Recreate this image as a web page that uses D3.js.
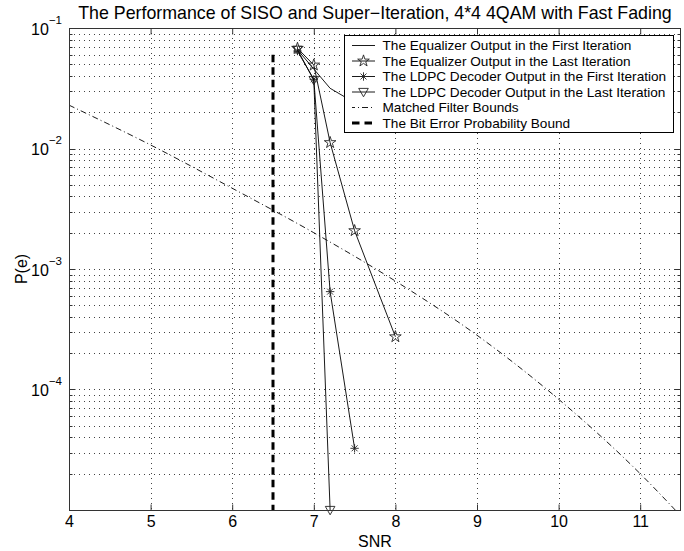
<!DOCTYPE html>
<html><head><meta charset="utf-8">
<script src="https://cdn.jsdelivr.net/npm/d3@7"></script>
<style>
body{margin:0;background:#fff}
svg{display:block}
text{font-family:"Liberation Sans",Arial,Helvetica,sans-serif;fill:#000}
</style>
</head><body>
<svg id="c" width="684" height="551"></svg>
<script>
// ---------------- data ----------------
const titleText = "The Performance of SISO and Super\u2212Iteration, 4*4 4QAM with Fast Fading";
const xLabelText = "SNR";
const yLabelText = "P(e)";
const xTicks = [4, 5, 6, 7, 8, 9, 10, 11];
const yDecades = [1e-1, 1e-2, 1e-3, 1e-4, 1e-5];
const yLabelDecades = [1e-1, 1e-2, 1e-3, 1e-4];
const yLabelExps = ["\u22121", "\u22122", "\u22123", "\u22124"];

const snrEqFirst = [6.8, 7.2, 7.5, 8.0];
const perEqFirst = [0.066, 0.0316, 0.024, 0.020];
const snrEqLast = [6.8, 7.0, 7.2, 7.5, 8.0];
const perEqLast = [0.0678, 0.0493, 0.0112, 0.00208, 0.000274];
const snrLdpcFirst = [6.8, 7.0, 7.2, 7.5];
const perLdpcFirst = [0.0644, 0.0375, 0.000649, 0.0000325];
const snrLdpcLast = [6.8, 7.0, 7.2];
const perLdpcLast = [0.066, 0.037, 0.00001];
const snrMfb = [4, 5, 6, 7, 8, 9, 10, 11, 11.5];
const perMfb = [0.0229, 0.0107, 0.00468, 0.0020, 0.000794, 0.000282, 0.000083, 0.000020, 0.0000089];
const snrBound = [6.5, 6.5];
const perBound = [0.06, 0.00001];

const legendLabels = [
  "The Equalizer Output in the First Iteration",
  "The Equalizer Output in the Last Iteration",
  "The LDPC Decoder Output in the First Iteration",
  "The LDPC Decoder Output in the Last Iteration",
  "Matched Filter Bounds",
  "The Bit Error Probability Bound"
];

// ---------------- layout ----------------
const L = 69, R = 681, T = 28, B = 510;
const svg = d3.select("#c");
const x = d3.scaleLinear().domain([4, 11.5]).range([L, R]);
const y = d3.scaleLog().domain([1e-5, 1e-1]).range([B, T]);

const yMinor = [];
for (let k = -5; k <= -2; k++) for (let m = 2; m <= 9; m++) yMinor.push(m * Math.pow(10, k));

const gridColor = "#444";
const gridDash = "1,4";

// grid
const grid = svg.append("g");
grid.selectAll("line.vx").data(xTicks.filter(d => d > 4)).join("line")
  .attr("x1", d => Math.round(x(d)) + 0.5).attr("x2", d => Math.round(x(d)) + 0.5)
  .attr("y1", T).attr("y2", B)
  .attr("stroke", gridColor).attr("stroke-width", 1).attr("stroke-dasharray", gridDash);
grid.selectAll("line.hy").data(yMinor.concat(yDecades.filter(d => d < 1e-1 && d > 1e-5))).join("line")
  .attr("x1", L).attr("x2", R)
  .attr("y1", d => Math.round(y(d)) + 0.5).attr("y2", d => Math.round(y(d)) + 0.5)
  .attr("stroke", gridColor).attr("stroke-width", 1).attr("stroke-dasharray", gridDash);

// clip
svg.append("clipPath").attr("id", "clip").append("rect")
  .attr("x", L).attr("y", T - 8).attr("width", R - L).attr("height", B - T + 16);
svg.append("clipPath").attr("id", "clipTight").append("rect")
  .attr("x", L).attr("y", T).attr("width", R - L).attr("height", B - T);

const plot = svg.append("g").attr("clip-path", "url(#clip)");
const line = d3.line().x(d => x(d[0])).y(d => y(d[1]));
const zip = (a, b) => a.map((v, i) => [v, b[i]]);

// symbols
const starPath = d3.symbol(d3.symbolStar, 42)();
const triPath = "M-4.8,-3.6L4.8,-3.6L0,4.8Z";
const astPath = (() => { const r = 4.2, q = r * 0.7071;
  return `M${-r},0L${r},0M0,${-r}L0,${r}M${-q},${-q}L${q},${q}M${-q},${q}L${q},${-q}`; })();

const lineColor = "#000";
const lw = 0.9;

// matched filter bounds
const gTight = svg.append("g").attr("clip-path", "url(#clipTight)");
gTight.append("path").datum(zip(snrMfb, perMfb))
  .attr("d", d3.line().x(d => x(d[0])).y(d => y(d[1])).curve(d3.curveMonotoneX))
  .attr("fill", "none")
  .attr("stroke", lineColor).attr("stroke-width", lw).attr("stroke-dasharray", "6,3,1,3");

// bit error probability bound
plot.append("path").datum(zip(snrBound, perBound))
  .attr("d", line).attr("fill", "none").attr("stroke", "#000").attr("stroke-width", 3)
  .attr("stroke-dasharray", "7.5,5");

function series(sx, sy, marker) {
  const data = zip(sx, sy);
  plot.append("path").datum(data).attr("d", line).attr("fill", "none")
    .attr("stroke", lineColor).attr("stroke-width", lw);
  if (marker) {
    plot.selectAll(null).data(data).join("path")
      .attr("transform", d => `translate(${x(d[0])},${y(d[1])})`)
      .attr("d", marker).attr("fill", "none").attr("stroke", "#222").attr("stroke-width", 0.9);
  }
}
series(snrEqFirst, perEqFirst, null);
series(snrEqLast, perEqLast, starPath);
series(snrLdpcFirst, perLdpcFirst, astPath);
series(snrLdpcLast, perLdpcLast, triPath);

// legend
const lg = svg.append("g");
const LX = 344.5, LY = 35.5, LW = 329, LH = 97;
lg.append("rect").attr("x", LX).attr("y", LY).attr("width", LW).attr("height", LH)
  .attr("fill", "#fff").attr("stroke", "#000").attr("stroke-width", 1);
const rowY = i => 45.5 + i * 15.5;
const styles = [
  {dash: null, w: lw, m: null},
  {dash: null, w: lw, m: starPath},
  {dash: null, w: lw, m: astPath},
  {dash: null, w: lw, m: triPath},
  {dash: "6,3,1,3", w: lw, m: null, off: 3},
  {dash: "7.5,5", w: 3, m: null}
];
legendLabels.forEach((lab, i) => {
  const s = styles[i], yy = rowY(i);
  const ln = lg.append("line").attr("x1", 352).attr("x2", 375).attr("y1", yy).attr("y2", yy)
    .attr("stroke", "#000").attr("stroke-width", s.w);
  if (s.dash) ln.attr("stroke-dasharray", s.dash).attr("stroke-dashoffset", s.off || 0);
  if (s.m) lg.append("path").attr("d", s.m).attr("transform", `translate(363.5,${yy})`)
    .attr("fill", "none").attr("stroke", "#222").attr("stroke-width", 0.9);
  lg.append("text").attr("class", "lgt").attr("x", 382.5).attr("y", yy + 4.8)
    .attr("font-size", 14).text(lab);
});
(() => {
  const t = lg.selectAll("text.lgt").filter((d, i) => i === 2).node();
  const w = t.getComputedTextLength();
  lg.selectAll("text.lgt").attr("font-size", 14 * 284 / w);
})();

// axes box
const ax = svg.append("g");
ax.append("rect").attr("x", L + 0.5).attr("y", T + 0.5).attr("width", R - L - 1).attr("height", B - T)
  .attr("fill", "none").attr("stroke", "#333").attr("stroke-width", 1);

// x axis ticks (bottom & top, inward)
const xb = d3.axisBottom(x).tickValues(xTicks).tickSize(-6).tickPadding(5).tickFormat(d3.format("d"));
const gxb = svg.append("g").attr("transform", `translate(0,${B + 0.5})`).call(xb);
gxb.select(".domain").remove();
gxb.selectAll("text").attr("font-size", 16).attr("font-family", "Liberation Sans, Arial, sans-serif");
gxb.selectAll("line").attr("stroke", "#333");
const xt = d3.axisTop(x).tickValues(xTicks).tickSize(-6).tickFormat("");
const gxt = svg.append("g").attr("transform", `translate(0,${T + 0.5})`).call(xt);
gxt.select(".domain").remove(); gxt.selectAll("line").attr("stroke", "#333");

// y axis ticks (left & right, inward, major + minor)
function yTicks(axisFn, xpos, vals, size) {
  const g = svg.append("g").attr("transform", `translate(${xpos},0)`)
    .call(axisFn(y).tickValues(vals).tickSize(size).tickFormat(""));
  g.select(".domain").remove(); g.selectAll("line").attr("stroke", "#333");
  g.selectAll(".tick").attr("transform", d => `translate(0,${Math.round(y(d)) + 0.5})`);
}
yTicks(d3.axisLeft, L + 0.5, yDecades, -6);
yTicks(d3.axisLeft, L + 0.5, yMinor, -3);
yTicks(d3.axisRight, R - 0.5, yDecades, -6);
yTicks(d3.axisRight, R - 0.5, yMinor, -3);

// y tick labels 10^k
yLabelDecades.forEach((v, i) => {
  const t = svg.append("text").attr("x", 62).attr("y", y(v) + 6.5).attr("text-anchor", "end")
    .attr("font-size", 16);
  t.append("tspan").text("10");
  t.append("tspan").attr("font-size", 11.5).attr("dy", -11).text(yLabelExps[i]);
});

// labels
svg.append("text").attr("x", (L + R) / 2).attr("y", 546.5).attr("text-anchor", "middle")
  .attr("font-size", 16).text(xLabelText);
svg.append("text").attr("transform", `translate(27,${(T + B) / 2}) rotate(-90)`)
  .attr("text-anchor", "middle").attr("font-size", 16).text(yLabelText);
const title = svg.append("text").attr("x", 375).attr("y", 18.5).attr("text-anchor", "middle")
  .attr("font-size", 16).text(titleText);
(() => { const w = title.node().getComputedTextLength(); title.attr("font-size", 16 * 594 / w); })();
</script>
</body></html>
